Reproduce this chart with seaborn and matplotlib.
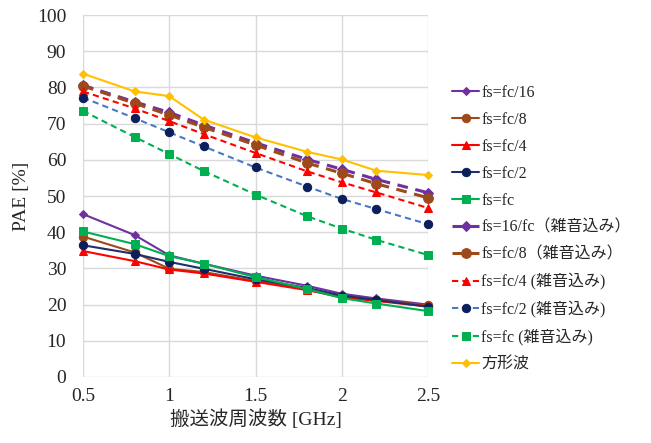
import numpy as np
import pandas as pd
import seaborn as sns
import matplotlib
matplotlib.use("Agg")
import matplotlib.pyplot as plt

# 搬送波周波数 [GHz]
freq = [0.5, 0.8, 1.0, 1.2, 1.5, 1.8, 2.0, 2.2, 2.5]

# PAE [%]
fc16 = [45.0, 39.2, 33.6, 31.3, 28.0, 25.2, 23.0, 21.7, 20.0]
fc8 = [38.8, 34.4, 29.9, 29.0, 26.5, 24.2, 22.5, 21.2, 19.8]
fc4 = [34.8, 32.0, 29.7, 28.6, 26.3, 24.0, 22.0, 21.0, 19.5]
fc2 = [36.4, 34.0, 31.8, 29.9, 27.0, 24.6, 22.5, 21.3, 19.4]
fc1 = [40.2, 36.7, 33.4, 31.3, 27.6, 24.3, 21.8, 20.3, 18.2]
fc16_n = [80.6, 76.0, 73.1, 69.6, 64.7, 60.1, 57.4, 54.6, 50.9]
fc8_n = [80.4, 75.6, 72.4, 69.0, 64.1, 59.1, 56.3, 53.4, 49.5]
fc4_n = [78.9, 74.2, 70.7, 67.1, 61.9, 56.8, 53.8, 51.0, 46.7]
fc2_n = [77.2, 71.5, 67.6, 63.7, 57.9, 52.6, 49.2, 46.4, 42.2]
fc1_n = [73.5, 66.3, 61.6, 56.9, 50.4, 44.4, 41.0, 37.9, 33.7]
square = [83.8, 78.9, 77.6, 71.1, 66.2, 62.2, 60.1, 57.0, 55.8]

labels = ['fs=fc/16', 'fs=fc/8', 'fs=fc/4', 'fs=fc/2', 'fs=fc',
          'fs=16/fc（雑音込み）', 'fs=fc/8（雑音込み）', 'fs=fc/4 (雑音込み)',
          'fs=fc/2 (雑音込み)', 'fs=fc (雑音込み)', '方形波']

# (値, 線の色, マーカーの色, マーカー, サイズ, 線種, 線幅)
series = [
    (fc16, '#7030A0', '#7030A0', 'D', 4, '-', 1.5),
    (fc8, '#9C4A1A', '#9C4A1A', 'o', 6, '-', 1.5),
    (fc4, '#FF0000', '#FF0000', '^', 6, '-', 1.5),
    (fc2, '#1F2F6E', '#0B1F5C', 'o', 6, '-', 1.5),
    (fc1, '#00B050', '#00B050', 's', 6, '-', 1.5),
    (fc16_n, '#7030A0', '#7030A0', 'D', 5, (0, (3.5, 2.5)), 2.2),
    (fc8_n, '#9C4A1A', '#9C4A1A', 'o', 7, (0, (3.5, 2.5)), 2.2),
    (fc4_n, '#FF0000', '#FF0000', '^', 6, (0, (3, 2)), 1.5),
    (fc2_n, '#4A78C8', '#0B1F5C', 'o', 6, (0, (3, 2)), 1.5),
    (fc1_n, '#00B050', '#00B050', 's', 6, (0, (3, 2)), 1.5),
    (square, '#FFC000', '#FFC000', 'D', 4, '-', 1.5),
]

sns.set_style("white")
plt.rcParams['font.family'] = ['Liberation Serif', 'Noto Sans CJK JP']

fig = plt.figure(figsize=(6.51, 4.43), dpi=100)
ax = fig.add_axes([0.1275, 0.149, 0.53, 0.817])

for (vals, lc, mc, mk, ms, ls, lw), lab in zip(series, labels):
    df = pd.DataFrame({'freq': freq, 'pae': vals})
    sns.lineplot(data=df, x='freq', y='pae', ax=ax, color=lc, linestyle=ls,
                 linewidth=lw, marker=mk, markersize=ms, markerfacecolor=mc,
                 markeredgecolor=mc, label=lab, clip_on=False)

ax.set_xlim(0.5, 2.5)
ax.set_ylim(0, 100)
ax.set_xticks([0.5, 1.0, 1.5, 2.0, 2.5])
ax.set_xticklabels(['0.5', '1', '1.5', '2', '2.5'])
ax.set_yticks(np.arange(0, 101, 10))
ax.tick_params(axis='both', length=0, labelsize=14, colors='#262626')
ax.tick_params(axis='y', pad=12)
ax.tick_params(axis='x', pad=8)
ax.grid(True, color='#D9D9D9', linewidth=1)
ax.set_axisbelow(True)
for s in ax.spines.values():
    s.set_visible(False)

ax.set_xlabel('搬送波周波数 [GHz]', fontsize=14, color='#262626', labelpad=3)
ax.set_ylabel('PAE [%]', fontsize=14, color='#262626', labelpad=5)

handles, labs = ax.get_legend_handles_labels()
ax.get_legend().remove()
fig.legend(handles, labs, loc='upper left', bbox_to_anchor=(0.695, 0.808),
           frameon=False, fontsize=11.5, handlelength=1.65, handletextpad=0.15,
           labelspacing=0.68, numpoints=1, borderaxespad=0, borderpad=0)

fig.savefig('out.png', dpi=100)
